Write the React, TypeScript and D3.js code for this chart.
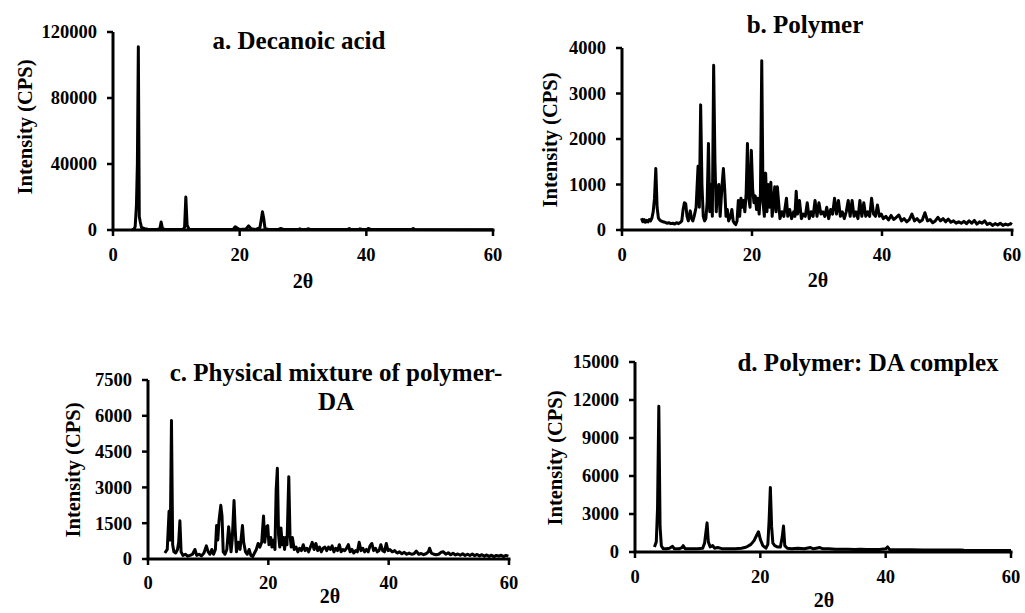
import React from "react";
import * as d3 from "d3";

type Pt = [number, number];

// a. Decanoic acid  [2θ, intensity CPS]
const decanoicAcid: Pt[] = [
  [3.0, 200], [3.3, 400], [3.5, 2000], [3.7, 15000], [3.85, 40000], [4.0, 111000], [4.15, 8000], [4.3, 5000],
  [4.5, 1500], [5.0, 800], [5.5, 400], [6.0, 300], [7.0, 300], [7.4, 800], [7.6, 4800], [7.8, 1000], [8.2, 300],
  [9.0, 250], [10.0, 250], [11.0, 300], [11.3, 1500], [11.5, 20000], [11.7, 3000], [12.0, 500], [13.0, 300],
  [15.0, 250], [17.0, 250], [19.0, 500], [19.3, 2000], [19.6, 1200], [20.0, 300], [21.0, 600], [21.4, 2500],
  [21.8, 800], [22.5, 300], [23.2, 1500], [23.4, 6000], [23.6, 11000], [23.8, 7000], [24.0, 1000], [24.5, 300],
  [26.0, 250], [26.5, 900], [27.0, 250], [29.3, 250], [29.5, 700], [29.8, 250], [30.6, 250], [30.8, 800], [31.2, 250],
  [37.0, 300], [37.3, 900], [37.6, 300], [38.8, 250], [39.0, 700], [39.4, 300], [40.1, 250], [40.3, 900], [40.7, 300],
  [47.2, 300], [47.4, 900], [47.6, 300], [60.0, 200],
];

// b. Polymer
const polymer: Pt[] = [
  [3.0, 260], [3.2, 180], [3.4, 230], [3.6, 170], [3.8, 210], [4.0, 180], [4.2, 230], [4.4, 200], [4.6, 260],
  [4.8, 400], [5.0, 700], [5.2, 1350], [5.4, 500], [5.6, 260], [5.8, 220], [6.0, 200], [6.3, 180], [6.6, 170],
  [6.9, 150], [7.2, 160], [7.5, 140], [7.8, 150], [8.1, 130], [8.4, 160], [8.7, 140], [9.0, 170], [9.2, 200],
  [9.4, 450], [9.6, 600], [9.8, 580], [10.0, 300], [10.2, 200], [10.5, 420], [10.7, 250], [10.9, 200], [11.1, 300],
  [11.4, 500], [11.7, 1400], [11.9, 500], [12.1, 2750], [12.3, 1000], [12.5, 300], [12.7, 200], [12.9, 250],
  [13.1, 600], [13.3, 1900], [13.5, 400], [13.7, 1000], [13.9, 300], [14.1, 3620], [14.3, 1500], [14.5, 400],
  [14.7, 900], [14.9, 1000], [15.1, 300], [15.4, 1000], [15.6, 1350], [15.8, 900], [16.0, 300], [16.2, 450],
  [16.4, 200], [16.7, 300], [16.9, 450], [17.1, 200], [17.3, 150], [17.5, 120], [17.7, 200], [17.9, 650],
  [18.1, 300], [18.3, 700], [18.5, 500], [18.7, 650], [18.9, 400], [19.1, 800], [19.3, 1900], [19.5, 700],
  [19.7, 500], [19.9, 1750], [20.1, 900], [20.3, 600], [20.5, 750], [20.7, 450], [20.9, 700], [21.1, 350],
  [21.3, 800], [21.5, 3720], [21.7, 600], [21.9, 300], [22.1, 1250], [22.3, 400], [22.5, 1000], [22.7, 500],
  [22.9, 1050], [23.1, 300], [23.3, 600], [23.5, 950], [23.7, 400], [23.9, 950], [24.1, 600], [24.3, 250],
  [24.6, 400], [24.9, 300], [25.1, 500], [25.3, 700], [25.5, 300], [25.8, 450], [26.1, 250], [26.4, 400],
  [26.6, 300], [26.8, 850], [27.0, 350], [27.3, 650], [27.6, 250], [27.9, 350], [28.2, 300], [28.5, 600],
  [28.8, 250], [29.1, 400], [29.4, 300], [29.7, 650], [30.0, 300], [30.3, 600], [30.6, 350], [30.9, 400],
  [31.2, 300], [31.5, 500], [31.8, 250], [32.1, 450], [32.4, 350], [32.7, 700], [33.0, 350], [33.3, 650],
  [33.6, 300], [33.9, 400], [34.2, 250], [34.5, 400], [34.8, 650], [35.1, 300], [35.4, 650], [35.7, 300],
  [36.0, 400], [36.3, 250], [36.6, 650], [36.9, 300], [37.2, 600], [37.5, 300], [37.8, 400], [38.1, 300],
  [38.4, 700], [38.7, 350], [39.0, 300], [39.3, 550], [39.6, 300], [39.9, 350], [40.2, 250], [40.6, 300],
  [41.0, 220], [41.4, 320], [41.8, 230], [42.2, 280], [42.6, 330], [43.0, 200], [43.4, 250], [43.8, 180],
  [44.2, 230], [44.6, 350], [45.0, 200], [45.4, 250], [45.8, 180], [46.2, 220], [46.6, 380], [47.0, 200],
  [47.4, 230], [47.8, 160], [48.2, 200], [48.6, 280], [49.0, 200], [49.4, 250], [49.8, 180], [50.2, 240],
  [50.6, 170], [51.0, 200], [51.4, 150], [51.8, 180], [52.2, 150], [52.6, 190], [53.0, 140], [53.4, 200],
  [53.8, 150], [54.2, 210], [54.6, 130], [55.0, 180], [55.4, 150], [55.8, 200], [56.2, 120], [56.6, 150],
  [57.0, 100], [57.4, 140], [57.8, 110], [58.2, 150], [58.6, 100], [59.0, 130], [59.4, 110], [59.8, 140], [60.0, 120],
];

// c. Physical mixture of polymer-DA
const physicalMixture: Pt[] = [
  [2.8, 250], [3.2, 400], [3.5, 2000], [3.7, 800], [3.9, 5800], [4.1, 600], [4.3, 300], [4.6, 250], [4.9, 400],
  [5.1, 700], [5.3, 1600], [5.5, 300], [5.8, 150], [6.2, 200], [6.6, 120], [7.0, 150], [7.4, 200], [7.8, 400],
  [8.1, 150], [8.5, 200], [8.9, 130], [9.3, 250], [9.7, 550], [10.0, 300], [10.3, 200], [10.6, 400], [10.9, 200],
  [11.2, 400], [11.4, 1400], [11.6, 800], [11.8, 1600], [12.1, 2250], [12.3, 1800], [12.5, 300], [12.8, 200],
  [13.1, 400], [13.4, 1350], [13.6, 900], [13.8, 300], [14.0, 800], [14.3, 2450], [14.5, 1200], [14.7, 300],
  [15.0, 700], [15.3, 400], [15.7, 1400], [15.9, 700], [16.2, 300], [16.5, 200], [16.8, 400], [17.1, 150],
  [17.4, 100], [17.7, 250], [18.0, 400], [18.3, 650], [18.6, 500], [18.9, 700], [19.2, 1800], [19.4, 700],
  [19.7, 1350], [19.9, 1400], [20.1, 600], [20.4, 900], [20.6, 500], [20.9, 800], [21.1, 400], [21.3, 2900],
  [21.5, 3800], [21.7, 1000], [21.9, 500], [22.1, 1300], [22.3, 600], [22.5, 900], [22.7, 400], [22.9, 900],
  [23.1, 600], [23.4, 3450], [23.6, 1000], [23.8, 500], [24.0, 900], [24.3, 400], [24.6, 500], [24.9, 300],
  [25.2, 450], [25.5, 350], [25.8, 600], [26.1, 350], [26.4, 450], [26.7, 300], [27.0, 500], [27.3, 700],
  [27.6, 400], [27.9, 650], [28.2, 350], [28.5, 500], [28.8, 300], [29.1, 450], [29.4, 500], [29.7, 350],
  [30.0, 500], [30.3, 400], [30.6, 550], [30.9, 300], [31.2, 450], [31.5, 350], [31.8, 600], [32.1, 300],
  [32.4, 400], [32.7, 350], [33.0, 450], [33.3, 600], [33.6, 300], [33.9, 400], [34.2, 250], [34.5, 350],
  [34.8, 300], [35.1, 700], [35.4, 350], [35.7, 450], [36.0, 300], [36.3, 400], [36.6, 300], [36.9, 550],
  [37.2, 650], [37.5, 350], [37.8, 450], [38.1, 300], [38.4, 350], [38.7, 600], [39.0, 350], [39.3, 300],
  [39.6, 650], [39.9, 350], [40.2, 400], [40.6, 300], [41.0, 350], [41.4, 250], [41.8, 300], [42.2, 220],
  [42.6, 280], [43.0, 200], [43.4, 250], [43.8, 200], [44.2, 220], [44.6, 330], [45.0, 200], [45.4, 230],
  [45.8, 180], [46.2, 220], [46.6, 300], [46.8, 450], [47.1, 250], [47.5, 200], [47.9, 180], [48.3, 200],
  [48.7, 280], [49.1, 300], [49.5, 200], [49.9, 260], [50.3, 180], [50.7, 240], [51.1, 170], [51.5, 210],
  [51.9, 160], [52.3, 220], [52.7, 150], [53.1, 200], [53.5, 150], [53.9, 210], [54.3, 140], [54.7, 190],
  [55.1, 130], [55.5, 180], [55.9, 120], [56.3, 170], [56.7, 110], [57.1, 160], [57.5, 100], [57.9, 150],
  [58.3, 120], [58.7, 160], [59.1, 100], [59.5, 150], [59.9, 120],
];

// d. Polymer: DA complex
const complexDA: Pt[] = [
  [3.1, 400], [3.4, 800], [3.6, 3500], [3.8, 11500], [4.0, 2000], [4.2, 500], [4.5, 250], [5.0, 250], [5.5, 300],
  [6.0, 450], [6.3, 250], [7.0, 250], [7.5, 350], [7.7, 500], [8.0, 250], [9.0, 250], [10.0, 250], [10.8, 300],
  [11.1, 700], [11.3, 1500], [11.5, 2300], [11.7, 800], [12.0, 400], [12.4, 500], [12.7, 300], [13.2, 350],
  [14.0, 250], [15.0, 250], [16.0, 250], [17.0, 300], [17.5, 350], [18.0, 450], [18.5, 600], [19.0, 900],
  [19.4, 1300], [19.7, 1600], [20.0, 1000], [20.4, 500], [20.9, 300], [21.2, 600], [21.4, 2500], [21.6, 5100],
  [21.8, 2000], [22.0, 700], [22.3, 500], [22.7, 400], [23.2, 400], [23.5, 1200], [23.7, 2050], [23.9, 500],
  [24.3, 300], [25.0, 250], [26.0, 300], [27.0, 250], [28.0, 350], [28.5, 250], [29.5, 350], [30.0, 250],
  [31.0, 250], [32.0, 220], [33.0, 220], [34.0, 220], [35.0, 200], [36.0, 220], [37.0, 200], [38.0, 200],
  [39.0, 200], [40.0, 250], [40.3, 400], [40.6, 200], [42.0, 180], [44.0, 170], [46.0, 160], [48.0, 160],
  [50.0, 150], [52.0, 150], [52.5, 130], [54.0, 120], [56.0, 110], [58.0, 110], [60.0, 120],
];

const xTicks = [0, 20, 40, 60];
const yTicksA = [0, 40000, 80000, 120000];
const yTicksB = [0, 1000, 2000, 3000, 4000];
const yTicksC = [0, 1500, 3000, 4500, 6000, 7500];
const yTicksD = [0, 3000, 6000, 9000, 12000, 15000];

const titleA = ["a. Decanoic acid"];
const titleB = ["b. Polymer"];
const titleC = ["c. Physical mixture of polymer-", "DA"];
const titleD = ["d. Polymer: DA complex"];

const FONT = "'Liberation Serif', 'Times New Roman', Times, serif";

interface PanelCfg {
  data: Pt[];
  yTicks: number[];
  title: string[];
  left: number; right: number; top: number; bottom: number;
  titleX: number; titleY: number;
  yLabelX: number; yLabelY: number;
  xLabelX: number; xLabelY: number;
  tickLabelDy: number;
}

const panels: PanelCfg[] = [
  { data: decanoicAcid, yTicks: yTicksA, title: titleA, left: 113, right: 493, top: 32, bottom: 230,
    titleX: 299, titleY: 49, yLabelX: 25, yLabelY: 127, xLabelX: 303, xLabelY: 288, tickLabelDy: 31 },
  { data: polymer, yTicks: yTicksB, title: titleB, left: 622, right: 1012, top: 48, bottom: 230,
    titleX: 805, titleY: 33, yLabelX: 550, yLabelY: 140, xLabelX: 818, xLabelY: 287, tickLabelDy: 31 },
  { data: physicalMixture, yTicks: yTicksC, title: titleC, left: 148, right: 509, top: 380, bottom: 559,
    titleX: 336, titleY: 381, yLabelX: 73, yLabelY: 470, xLabelX: 330, xLabelY: 603, tickLabelDy: 30 },
  { data: complexDA, yTicks: yTicksD, title: titleD, left: 635, right: 1011, top: 362, bottom: 552,
    titleX: 868, titleY: 371, yLabelX: 555, yLabelY: 458, xLabelX: 824, xLabelY: 607, tickLabelDy: 31 },
];

function Panel({ p }: { p: PanelCfg }) {
  const x = d3.scaleLinear().domain([0, 60]).range([p.left, p.right]);
  const yMax = p.yTicks[p.yTicks.length - 1];
  const y = d3.scaleLinear().domain([0, yMax]).range([p.bottom, p.top]);
  const line = d3.line<Pt>().x(d => x(d[0])).y(d => y(d[1]));
  return (
    <g>
      <path d={line(p.data) || ""} fill="none" stroke="#000" strokeWidth={3} strokeLinejoin="round" />
      <line x1={p.left} x2={p.left} y1={p.top} y2={p.bottom} stroke="#000" strokeWidth={3} />
      <line x1={p.left - 1.5} x2={p.right + 1.5} y1={p.bottom} y2={p.bottom} stroke="#000" strokeWidth={3} />
      {p.yTicks.map(t => (
        <g key={"y" + t}>
          <line x1={p.left - 6} x2={p.left} y1={y(t)} y2={y(t)} stroke="#000" strokeWidth={2.5} />
          <text x={p.left - 16} y={y(t)} dy="0.35em" textAnchor="end" fontSize={18.5} fontWeight="bold" fontFamily={FONT}>{t}</text>
        </g>
      ))}
      {xTicks.map(t => (
        <g key={"x" + t}>
          <line x1={x(t)} x2={x(t)} y1={p.bottom} y2={p.bottom + 6} stroke="#000" strokeWidth={2.5} />
          <text x={x(t)} y={p.bottom + p.tickLabelDy} textAnchor="middle" fontSize={18.5} fontWeight="bold" fontFamily={FONT}>{t}</text>
        </g>
      ))}
      {p.title.map((s, i) => (
        <text key={i} x={p.titleX} y={p.titleY + i * 29} textAnchor="middle" fontSize={25} fontWeight="bold" fontFamily={FONT}>{s}</text>
      ))}
      <text transform={`translate(${p.yLabelX},${p.yLabelY}) rotate(-90)`} dy="0.35em" textAnchor="middle" fontSize={20.5} fontWeight="bold" fontFamily={FONT}>Intensity (CPS)</text>
      <text x={p.xLabelX} y={p.xLabelY} textAnchor="middle" fontSize={20} fontWeight="bold" fontFamily={FONT}>2θ</text>
    </g>
  );
}

export default function App() {
  return (
    <svg width={1025} height={613} style={{ position: "absolute", left: 0, top: 0, background: "#fff" }}>
      <rect width={1025} height={613} fill="#fff" />
      {panels.map((p, i) => <Panel key={i} p={p} />)}
    </svg>
  );
}
